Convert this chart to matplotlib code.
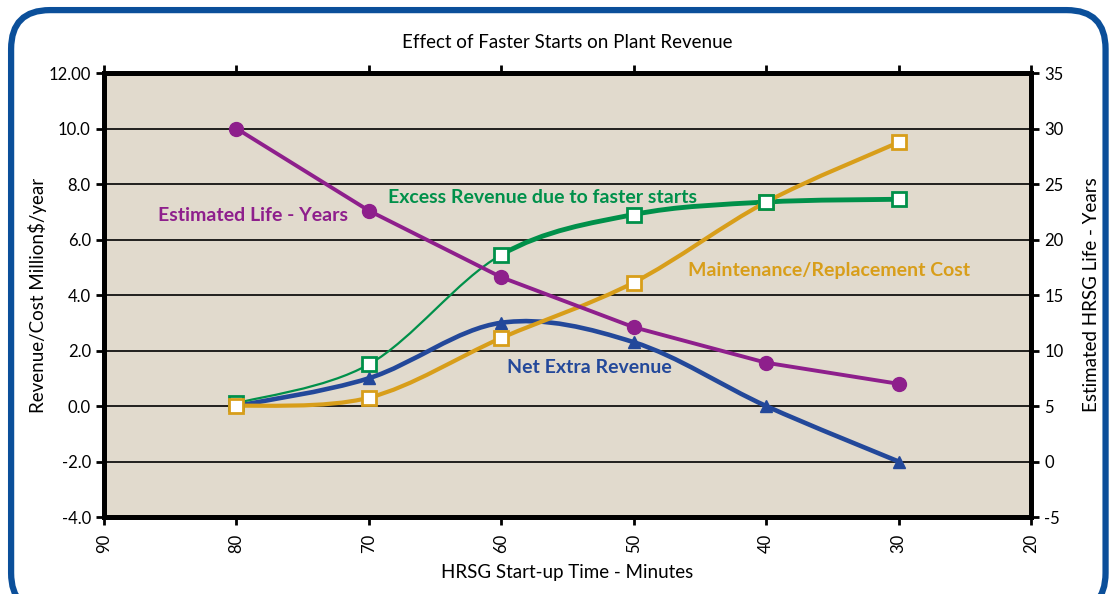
import numpy as np
import matplotlib
matplotlib.use("Agg")
import matplotlib.pyplot as plt
from matplotlib.path import Path
from matplotlib.patches import PathPatch, FancyBboxPatch

plt.rcParams['font.family'] = ['Lato', 'DejaVu Sans']
plt.rcParams['axes.unicode_minus'] = False

# start-up time (minutes)
minutes = [80, 70, 60, 50, 40, 30]

# left axis: Million $/year
excess_revenue = [0.1, 1.5, 5.45, 6.9, 7.35, 7.45]
maint_cost = [0.0, 0.3, 2.45, 4.45, 7.35, 9.5]
net_revenue = [0.0, 1.0, 3.0, 2.3, 0.0, -2.0]

# right axis: years
life_years = [30.0, 22.6, 16.6, 12.1, 8.9, 7.0]

x_ticks = [90, 80, 70, 60, 50, 40, 30, 20]
left_ticks = [12, 10, 8, 6, 4, 2, 0, -2, -4]
left_labels = ["12.00", "10.0", "8.0", "6.0", "4.0", "2.0", "0.0", "-2.0", "-4.0"]
right_ticks = [35, 30, 25, 20, 15, 10, 5, 0, -5]
right_labels = ["35", "30", "25", "20", "15", "10", "5", "0", "-5"]

BG = "#E1DACD"
PURPLE = "#8E1F8C"
GREEN = "#00904A"
GOLD = "#D89E1A"
BLUE = "#23489A"
FRAME = "#0B4F9A"


def smooth_segments(xs, ys):
    # Excel-like smoothed line: one cubic bezier per segment
    pts = np.column_stack([xs, ys]).astype(float)
    n = len(pts)
    segs = []
    for i in range(n - 1):
        p0 = pts[i - 1] if i > 0 else pts[i]
        p1 = pts[i]
        p2 = pts[i + 1]
        p3 = pts[i + 2] if i + 2 < n else pts[i + 1]
        c1 = p1 + (p2 - p0) / 6
        c2 = p2 - (p3 - p1) / 6
        segs.append([p1, c1, c2, p2])
    return segs


def draw_smooth(ax, xs, ys, color, lw, start=0, stop=None, z=3):
    segs = smooth_segments(xs, ys)[start:stop]
    verts = [segs[0][0]]
    codes = [Path.MOVETO]
    for s in segs:
        verts += [s[1], s[2], s[3]]
        codes += [Path.CURVE4] * 3
    ax.add_patch(PathPatch(Path(verts, codes), facecolor="none", edgecolor=color,
                           lw=lw, zorder=z, capstyle="round", joinstyle="round"))


fig = plt.figure(figsize=(11.1, 5.94), dpi=100)
fig.patches.append(FancyBboxPatch((0.010, -0.03), 0.986, 1.013, transform=fig.transFigure,
                                  boxstyle="round,pad=0,rounding_size=0.035",
                                  facecolor="none", edgecolor=FRAME, lw=4.5,
                                  mutation_aspect=1110 / 594))

ax = fig.add_axes([0.0937, 0.1296, 0.8351, 0.7475])
ax.set_facecolor(BG)
ax.set_xlim(90, 20)
ax.set_ylim(-4, 12)
for y in left_ticks[1:-1]:
    ax.axhline(y, color="black", lw=1.2, zorder=1)

draw_smooth(ax, minutes, net_revenue, BLUE, 3.3, z=3)
draw_smooth(ax, minutes, excess_revenue, GREEN, 1.6, 0, 2, z=4)
draw_smooth(ax, minutes, excess_revenue, GREEN, 3.5, 2, None, z=4)
draw_smooth(ax, minutes, maint_cost, GOLD, 3.0, z=5)

ax.plot(minutes, net_revenue, ls="none", marker="^", ms=9, color=BLUE, zorder=6)
ax.plot(minutes, maint_cost, ls="none", marker="s", ms=9.5, mfc="white", mec=GOLD, mew=2, zorder=6)
ax.plot(minutes[1:], excess_revenue[1:], ls="none", marker="s", ms=9.5, mfc="white", mec=GREEN, mew=2, zorder=7)
ax.plot(minutes[:1], excess_revenue[:1], ls="none", marker="s", ms=9.5, mfc="white", mec=GREEN, mew=2, zorder=5)

ax.set_xticks(x_ticks)
ax.set_xticklabels([str(v) for v in x_ticks], rotation=90)
ax.set_yticks(left_ticks)
ax.set_yticklabels(left_labels)
ax.tick_params(axis="x", which="both", direction="out", length=6, width=2,
               top=True, labelsize=12, pad=6)
ax.tick_params(axis="y", direction="out", length=6, width=2, labelsize=12)
for sp in ax.spines.values():
    sp.set_linewidth(3.5)

ax.set_xlabel("HRSG Start-up Time - Minutes", fontsize=13.5, labelpad=8)
ax.set_ylabel("Revenue/Cost Million$/year", fontsize=13.5, labelpad=1)
ax.set_title("Effect of Faster Starts on Plant Revenue", fontsize=13.5, pad=18)

ax2 = ax.twinx()
ax2.set_ylim(-5, 35)
ax2.patch.set_visible(False)
ax2.plot(minutes, life_years, color=PURPLE, lw=2.8, marker="o", ms=10, zorder=8)
ax2.set_yticks(right_ticks)
ax2.set_yticklabels(right_labels)
ax2.tick_params(axis="y", direction="out", length=6, width=2, labelsize=12)
for sp in ax2.spines.values():
    sp.set_linewidth(3.5)
ax2.set_ylabel("Estimated HRSG Life - Years", fontsize=13.5, labelpad=14)

ax.text(85.9, 6.88, "Estimated Life - Years", color=PURPLE, fontsize=14,
        fontweight="bold", ha="left", va="center", zorder=10)
ax.text(68.55, 7.53, "Excess Revenue due to faster starts", color=GREEN, fontsize=14,
        fontweight="bold", ha="left", va="center", zorder=10)
ax.text(45.9, 4.9, "Maintenance/Replacement Cost", color=GOLD, fontsize=14,
        fontweight="bold", ha="left", va="center", zorder=10)
ax.text(59.57, 1.37, "Net Extra Revenue", color=BLUE, fontsize=14,
        fontweight="bold", ha="left", va="center", zorder=10)

fig.savefig("out.png", dpi=100)
